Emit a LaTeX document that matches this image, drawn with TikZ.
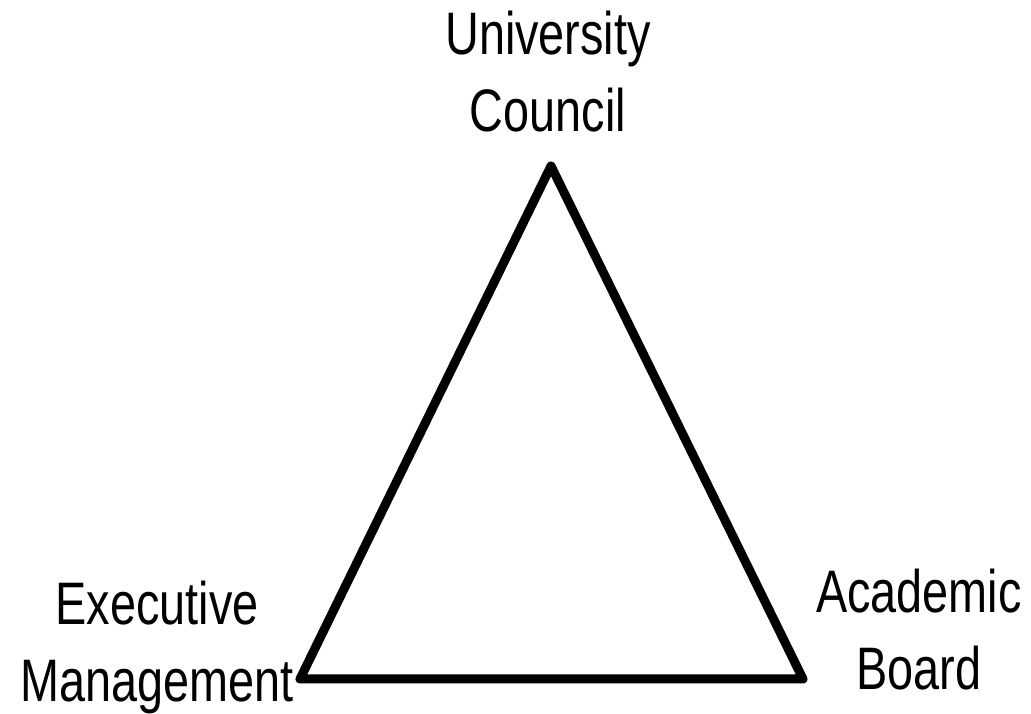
\documentclass[tikz,border=0pt]{standalone}
\usepackage{fontspec}
\usepackage{tikz}
\usetikzlibrary{calc}
\newfontfamily\narrowsans[FakeStretch=0.78]{Liberation Sans}

\begin{document}
\begin{tikzpicture}[x=1pt,y=1pt,
        lbl/.style={font=\narrowsans\fontsize{60}{77}\selectfont, align=center, inner sep=0pt, anchor=base},
        side/.style={line width=9pt, line join=round}]
        \useasboundingbox (0,0) rectangle (1031,714);
        \coordinate (top) at (551,548);
        \coordinate (left) at (300,35);
        \coordinate (right) at (803,35);
        \draw[side] (top) -- (right) -- (left) -- cycle;
        % base = baseline of the last line
        \node[lbl] (council) at (548,582) {University\\Council};
        \node[lbl] (exec) at (157,12) {Executive\\Management};
        \node[lbl] (board) at (919,24) {Academic\\Board};
    \end{tikzpicture}
\end{document}
